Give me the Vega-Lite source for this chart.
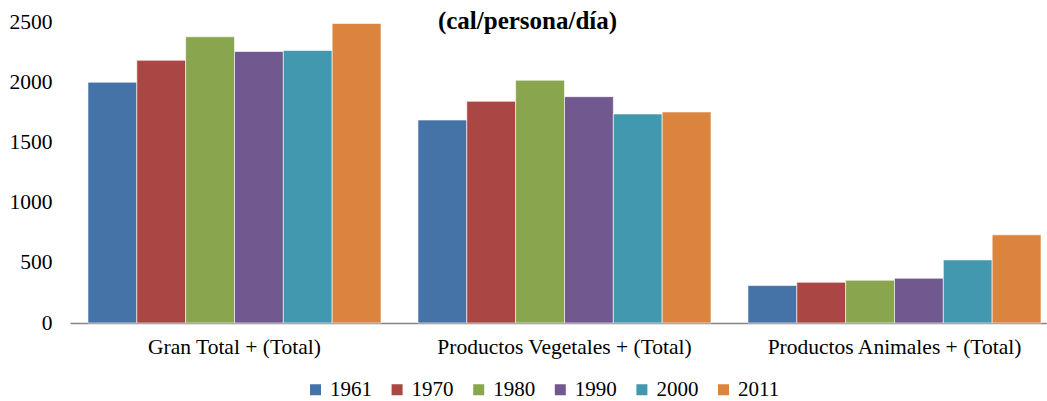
{
  "$schema": "https://vega.github.io/schema/vega-lite/v6.json",
  "width": 977,
  "height": 301,
  "autosize": {"type": "none"},
  "padding": {"left": 70, "top": 22, "right": 0, "bottom": 78},
  "background": "white",
  "config": {"view": {"stroke": null}, "font": "Liberation Serif"},
  "title": {"text": "(cal/persona/día)", "fontSize": 25, "fontWeight": "bold", "font": "Liberation Serif", "color": "black", "anchor": "middle", "dx": -31, "offset": -23},
  "data": {"values": [
    {"categoria": "Gran Total + (Total)", "año": "1961", "valor": 2000},
    {"categoria": "Gran Total + (Total)", "año": "1970", "valor": 2182},
    {"categoria": "Gran Total + (Total)", "año": "1980", "valor": 2377},
    {"categoria": "Gran Total + (Total)", "año": "1990", "valor": 2255},
    {"categoria": "Gran Total + (Total)", "año": "2000", "valor": 2263},
    {"categoria": "Gran Total + (Total)", "año": "2011", "valor": 2488},
    {"categoria": "Productos Vegetales + (Total)", "año": "1961", "valor": 1686},
    {"categoria": "Productos Vegetales + (Total)", "año": "1970", "valor": 1841},
    {"categoria": "Productos Vegetales + (Total)", "año": "1980", "valor": 2016},
    {"categoria": "Productos Vegetales + (Total)", "año": "1990", "valor": 1880},
    {"categoria": "Productos Vegetales + (Total)", "año": "2000", "valor": 1736},
    {"categoria": "Productos Vegetales + (Total)", "año": "2011", "valor": 1753},
    {"categoria": "Productos Animales + (Total)", "año": "1961", "valor": 311},
    {"categoria": "Productos Animales + (Total)", "año": "1970", "valor": 338},
    {"categoria": "Productos Animales + (Total)", "año": "1980", "valor": 355},
    {"categoria": "Productos Animales + (Total)", "año": "1990", "valor": 372},
    {"categoria": "Productos Animales + (Total)", "año": "2000", "valor": 524},
    {"categoria": "Productos Animales + (Total)", "año": "2011", "valor": 732}
  ]},
  "mark": {"type": "bar", "stroke": "white", "strokeWidth": 0.6},
  "encoding": {
    "x": {"field": "categoria", "type": "nominal", "sort": ["Gran Total + (Total)", "Productos Vegetales + (Total)", "Productos Animales + (Total)"],
      "scale": {"paddingInner": 0.112, "paddingOuter": 0.0363, "align": 0.75},
      "axis": {"title": null, "labelAngle": 0, "ticks": false, "domainColor": "#868686", "domainWidth": 1.5, "labelFontSize": 21.5, "labelPadding": 13, "labelColor": "black", "labelLimit": 0}},
    "xOffset": {"field": "año", "type": "nominal", "scale": {"paddingInner": 0, "paddingOuter": 0}},
    "y": {"field": "valor", "type": "quantitative", "scale": {"domain": [0, 2500], "nice": false},
      "axis": {"title": null, "values": [0, 500, 1000, 1500, 2000, 2500], "format": "d", "grid": false, "domain": false, "ticks": false, "labelPadding": 18, "labelFontSize": 21.5, "labelColor": "black"}},
    "color": {"field": "año", "type": "nominal",
      "scale": {"domain": ["1961", "1970", "1980", "1990", "2000", "2011"], "range": ["#4572A7", "#AA4643", "#89A54E", "#71588F", "#4198AF", "#DB843D"]},
      "legend": {"title": null, "orient": "none", "direction": "horizontal", "legendX": 235, "legendY": 357, "symbolType": "square", "symbolSize": 121, "symbolStrokeWidth": 0, "labelFontSize": 21, "labelColor": "black", "columnPadding": 14.6, "labelOffset": 4}}
  }
}
